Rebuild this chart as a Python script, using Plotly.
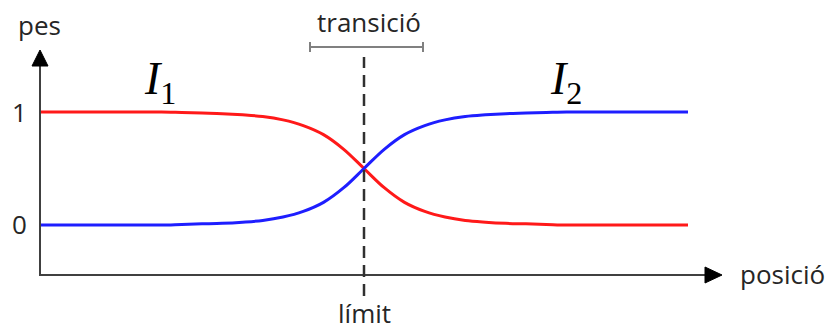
import plotly.graph_objects as go

# ---- data ----
positions = [-8, -7.5, -7, -6.5, -6, -5.5, -5, -4.5, -4, -3.5, -3, -2.5, -2, -1.5, -1, -0.5,
             0, 0.5, 1, 1.5, 2, 2.5, 3, 3.5, 4, 4.5, 5, 5.5, 6, 6.5, 7, 7.5, 8]
weight_I1 = [1.0, 1.0, 1.0, 1.0, 1.0, 1.0, 1.0, 0.995, 0.99, 0.985, 0.975, 0.96, 0.93, 0.88, 0.8, 0.67,
             0.5, 0.33, 0.2, 0.12, 0.07, 0.04, 0.025, 0.015, 0.01, 0.005, 0.0, 0.0, 0.0, 0.0, 0.0, 0.0, 0.0]
weight_I2 = [0.0, 0.0, 0.0, 0.0, 0.0, 0.0, 0.0, 0.005, 0.01, 0.015, 0.025, 0.04, 0.07, 0.12, 0.2, 0.33,
             0.5, 0.67, 0.8, 0.88, 0.93, 0.96, 0.975, 0.985, 0.99, 0.995, 1.0, 1.0, 1.0, 1.0, 1.0, 1.0, 1.0]
y_ticks = [0, 1]
y_tick_labels = ["0", "1"]
limit_position = 0

W, H = 829, 328
UNIT = 40.5  # pixels per position unit
X0, X1 = -364 / UNIT, (W - 364) / UNIT
Y0, Y1 = -0.9115, 1.991


def px2x(px):
    return X0 + (X1 - X0) * px / W


def px2y(py):
    return Y1 - (Y1 - Y0) * py / H


AXC = "#404040"
TXT = "#262626"
FONT = "Open Sans, Lato, sans-serif"
FS = 26

fig = go.Figure()
fig.add_trace(go.Scatter(x=positions, y=weight_I1, mode="lines",
                         line=dict(color="rgb(255,25,25)", width=3, shape="spline", smoothing=1.0),
                         hoverinfo="skip", showlegend=False))
fig.add_trace(go.Scatter(x=positions, y=weight_I2, mode="lines",
                         line=dict(color="rgb(30,30,255)", width=3, shape="spline", smoothing=1.0),
                         hoverinfo="skip", showlegend=False))

shapes = []
# axes
shapes.append(dict(type="line", x0=px2x(40), x1=px2x(40), y0=px2y(276), y1=px2y(62),
                   line=dict(color=AXC, width=2)))
shapes.append(dict(type="line", x0=px2x(39), x1=px2x(708), y0=px2y(275), y1=px2y(275),
                   line=dict(color=AXC, width=2)))
# arrowheads
shapes.append(dict(type="path",
                   path=f"M {px2x(40)} {px2y(50)} L {px2x(32)} {px2y(66)} L {px2x(48)} {px2y(66)} Z",
                   fillcolor="black", line=dict(color="black", width=1)))
shapes.append(dict(type="path",
                   path=f"M {px2x(722)} {px2y(275)} L {px2x(705)} {px2y(267)} L {px2x(705)} {px2y(283)} Z",
                   fillcolor="black", line=dict(color="black", width=1)))
# limit dashed line
shapes.append(dict(type="line", x0=limit_position, x1=limit_position, y0=px2y(296), y1=px2y(57),
                   line=dict(color="#303030", width=2.5, dash="12px,7px")))
# transition bracket
shapes.append(dict(type="line", x0=px2x(310), x1=px2x(423), y0=px2y(47), y1=px2y(47),
                   line=dict(color="#808080", width=2)))
for bx in (310, 423):
    shapes.append(dict(type="line", x0=px2x(bx), x1=px2x(bx), y0=px2y(42), y1=px2y(52),
                       line=dict(color="#808080", width=2)))

ann = []
for v, lab, cy in zip(y_ticks, y_tick_labels, (224, 112)):
    ann.append(dict(x=px2x(19), y=px2y(cy), text=lab, showarrow=False, xanchor="center", yanchor="middle",
                    font=dict(family=FONT, size=FS, color=TXT)))
ann.append(dict(x=px2x(39), y=px2y(25), text="pes", showarrow=False, xanchor="center", yanchor="middle",
                font=dict(family=FONT, size=FS, color=TXT)))
ann.append(dict(x=px2x(782), y=px2y(274), text="posició", showarrow=False, xanchor="center", yanchor="middle",
                font=dict(family=FONT, size=FS, color=TXT)))
ann.append(dict(x=limit_position, y=px2y(313), text="límit", showarrow=False, xanchor="center", yanchor="middle",
                font=dict(family=FONT, size=FS, color=TXT)))
ann.append(dict(x=px2x(369), y=px2y(22), text="transició", showarrow=False, xanchor="center", yanchor="middle",
                font=dict(family=FONT, size=FS, color=TXT)))
ann.append(dict(x=px2x(160), y=px2y(82), text="<i>I</i><sub>1</sub>", showarrow=False,
                xanchor="center", yanchor="middle",
                font=dict(family="Liberation Serif, Times New Roman, serif", size=46, color="black")))
ann.append(dict(x=px2x(566), y=px2y(82), text="<i>I</i><sub>2</sub>", showarrow=False,
                xanchor="center", yanchor="middle",
                font=dict(family="Liberation Serif, Times New Roman, serif", size=46, color="black")))

fig.update_layout(
    width=W, height=H,
    margin=dict(l=0, r=0, t=0, b=0),
    paper_bgcolor="white", plot_bgcolor="white",
    xaxis=dict(range=[X0, X1], visible=False, fixedrange=True),
    yaxis=dict(range=[Y0, Y1], visible=False, fixedrange=True),
    shapes=shapes, annotations=ann, showlegend=False,
)
fig.write_html("out.html", config={"displayModeBar": False},
               post_script="document.body.style.margin='0';document.body.style.overflow='hidden';")
